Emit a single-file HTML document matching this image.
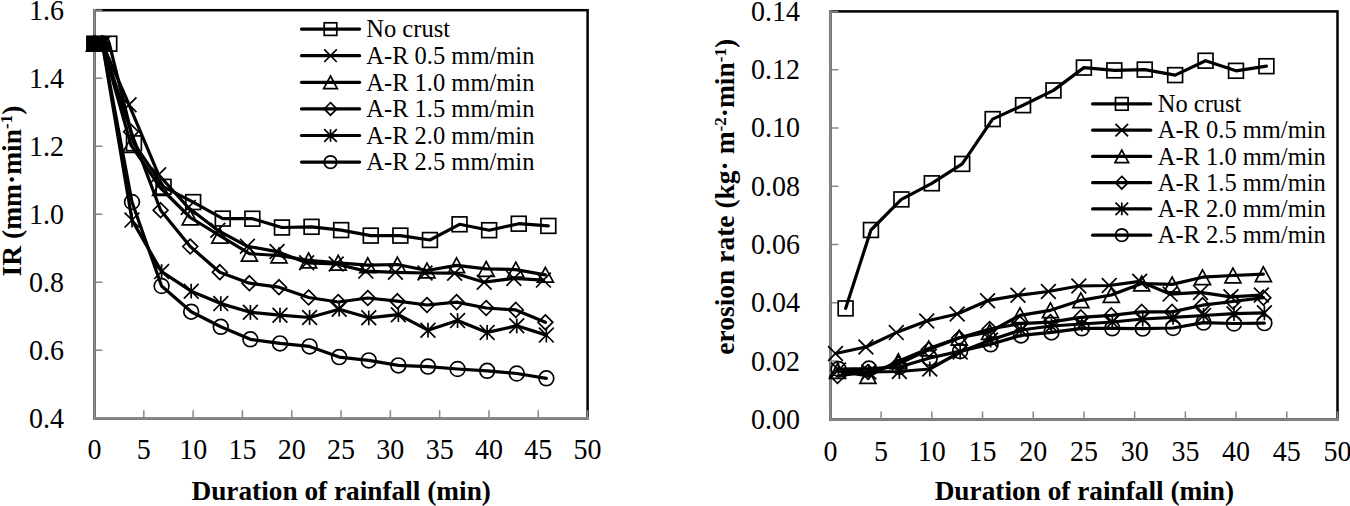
<!DOCTYPE html>
<html><head><meta charset="utf-8"><style>
html,body{margin:0;padding:0;background:#fff;width:1350px;height:506px;overflow:hidden}
svg{display:block}
.ln{fill:none;stroke:#000;stroke-width:3.2;stroke-linejoin:round;stroke-linecap:round}
.mk{fill:none;stroke:#000;stroke-width:1.7}
text{font-family:"Liberation Serif",serif;fill:#000}
.tl{font-size:28px}
.lg{font-size:24.5px}
.at{font-size:27.5px;font-weight:bold}
.xt{font-size:27.3px;font-weight:bold}
</style></head><body>
<svg width="1350" height="506" viewBox="0 0 1350 506">
<rect x="94.5" y="10.2" width="493.1" height="408.1" fill="none" stroke="#000" stroke-width="2.5"/><path d="M94.5 9.0V418.3H588.8000000000001" fill="none" stroke="#888888" stroke-width="2.5" stroke-linejoin="miter"/><path d="M94.5 418.30H102.5M94.5 350.28H102.5M94.5 282.27H102.5M94.5 214.25H102.5M94.5 146.23H102.5M94.5 78.22H102.5M94.5 10.20H102.5M94.50 418.3V410.3M143.81 418.3V410.3M193.12 418.3V410.3M242.43 418.3V410.3M291.74 418.3V410.3M341.05 418.3V410.3M390.36 418.3V410.3M439.67 418.3V410.3M488.98 418.3V410.3M538.29 418.3V410.3M587.60 418.3V410.3" stroke="#888888" stroke-width="1.5" fill="none"/><text class="tl" transform="translate(64.00 427.70) scale(1 1.07)" text-anchor="end">0.4</text><text class="tl" transform="translate(64.00 359.68) scale(1 1.07)" text-anchor="end">0.6</text><text class="tl" transform="translate(64.00 291.67) scale(1 1.07)" text-anchor="end">0.8</text><text class="tl" transform="translate(64.00 223.65) scale(1 1.07)" text-anchor="end">1.0</text><text class="tl" transform="translate(64.00 155.63) scale(1 1.07)" text-anchor="end">1.2</text><text class="tl" transform="translate(64.00 87.62) scale(1 1.07)" text-anchor="end">1.4</text><text class="tl" transform="translate(64.00 19.60) scale(1 1.07)" text-anchor="end">1.6</text><text class="tl" transform="translate(94.50 459.3) scale(1 1.07)" text-anchor="middle">0</text><text class="tl" transform="translate(143.81 459.3) scale(1 1.07)" text-anchor="middle">5</text><text class="tl" transform="translate(193.12 459.3) scale(1 1.07)" text-anchor="middle">10</text><text class="tl" transform="translate(242.43 459.3) scale(1 1.07)" text-anchor="middle">15</text><text class="tl" transform="translate(291.74 459.3) scale(1 1.07)" text-anchor="middle">20</text><text class="tl" transform="translate(341.05 459.3) scale(1 1.07)" text-anchor="middle">25</text><text class="tl" transform="translate(390.36 459.3) scale(1 1.07)" text-anchor="middle">30</text><text class="tl" transform="translate(439.67 459.3) scale(1 1.07)" text-anchor="middle">35</text><text class="tl" transform="translate(488.98 459.3) scale(1 1.07)" text-anchor="middle">40</text><text class="tl" transform="translate(538.29 459.3) scale(1 1.07)" text-anchor="middle">45</text><text class="tl" transform="translate(587.60 459.3) scale(1 1.07)" text-anchor="middle">50</text><rect x="830.4" y="11.4" width="507.1" height="408.0" fill="none" stroke="#000" stroke-width="2.5"/><path d="M830.4 10.200000000000001V419.4H1338.7" fill="none" stroke="#888888" stroke-width="2.5" stroke-linejoin="miter"/><path d="M830.4 419.40H838.4M830.4 361.11H838.4M830.4 302.83H838.4M830.4 244.54H838.4M830.4 186.26H838.4M830.4 127.97H838.4M830.4 69.69H838.4M830.4 11.40H838.4M830.40 419.4V411.4M881.11 419.4V411.4M931.82 419.4V411.4M982.53 419.4V411.4M1033.24 419.4V411.4M1083.95 419.4V411.4M1134.66 419.4V411.4M1185.37 419.4V411.4M1236.08 419.4V411.4M1286.79 419.4V411.4M1337.50 419.4V411.4" stroke="#888888" stroke-width="1.5" fill="none"/><text class="tl" transform="translate(799.90 428.80) scale(1 1.07)" text-anchor="end">0.00</text><text class="tl" transform="translate(799.90 370.51) scale(1 1.07)" text-anchor="end">0.02</text><text class="tl" transform="translate(799.90 312.23) scale(1 1.07)" text-anchor="end">0.04</text><text class="tl" transform="translate(799.90 253.94) scale(1 1.07)" text-anchor="end">0.06</text><text class="tl" transform="translate(799.90 195.66) scale(1 1.07)" text-anchor="end">0.08</text><text class="tl" transform="translate(799.90 137.37) scale(1 1.07)" text-anchor="end">0.10</text><text class="tl" transform="translate(799.90 79.09) scale(1 1.07)" text-anchor="end">0.12</text><text class="tl" transform="translate(799.90 20.80) scale(1 1.07)" text-anchor="end">0.14</text><text class="tl" transform="translate(830.40 460.5) scale(1 1.07)" text-anchor="middle">0</text><text class="tl" transform="translate(881.11 460.5) scale(1 1.07)" text-anchor="middle">5</text><text class="tl" transform="translate(931.82 460.5) scale(1 1.07)" text-anchor="middle">10</text><text class="tl" transform="translate(982.53 460.5) scale(1 1.07)" text-anchor="middle">15</text><text class="tl" transform="translate(1033.24 460.5) scale(1 1.07)" text-anchor="middle">20</text><text class="tl" transform="translate(1083.95 460.5) scale(1 1.07)" text-anchor="middle">25</text><text class="tl" transform="translate(1134.66 460.5) scale(1 1.07)" text-anchor="middle">30</text><text class="tl" transform="translate(1185.37 460.5) scale(1 1.07)" text-anchor="middle">35</text><text class="tl" transform="translate(1236.08 460.5) scale(1 1.07)" text-anchor="middle">40</text><text class="tl" transform="translate(1286.79 460.5) scale(1 1.07)" text-anchor="middle">45</text><text class="tl" transform="translate(1337.50 460.5) scale(1 1.07)" text-anchor="middle">50</text><path class="ln" d="M94.50 43.70 L109.30 43.70 L133.96 143.30 L163.56 186.80 L193.16 202.10 L222.76 218.60 L252.36 218.70 L281.95 227.50 L311.55 226.80 L341.15 230.10 L370.75 235.60 L400.35 235.60 L429.94 240.00 L459.54 224.30 L489.14 230.20 L518.74 223.70 L548.34 225.90"/><g class="mk"><rect x="87.10" y="36.30" width="14.80" height="14.80"/><rect x="101.90" y="36.30" width="14.80" height="14.80"/><rect x="126.56" y="135.90" width="14.80" height="14.80"/><rect x="156.16" y="179.40" width="14.80" height="14.80"/><rect x="185.76" y="194.70" width="14.80" height="14.80"/><rect x="215.36" y="211.20" width="14.80" height="14.80"/><rect x="244.96" y="211.30" width="14.80" height="14.80"/><rect x="274.55" y="220.10" width="14.80" height="14.80"/><rect x="304.15" y="219.40" width="14.80" height="14.80"/><rect x="333.75" y="222.70" width="14.80" height="14.80"/><rect x="363.35" y="228.20" width="14.80" height="14.80"/><rect x="392.95" y="228.20" width="14.80" height="14.80"/><rect x="422.54" y="232.60" width="14.80" height="14.80"/><rect x="452.14" y="216.90" width="14.80" height="14.80"/><rect x="481.74" y="222.80" width="14.80" height="14.80"/><rect x="511.34" y="216.30" width="14.80" height="14.80"/><rect x="540.94" y="218.50" width="14.80" height="14.80"/></g><path class="ln" d="M845.61 308.40 L870.96 230.00 L901.38 199.40 L931.80 183.30 L962.22 163.90 L992.64 119.10 L1023.06 105.20 L1053.48 90.40 L1083.90 67.60 L1114.32 70.40 L1144.74 69.60 L1175.16 75.10 L1205.58 60.70 L1236.00 70.80 L1266.42 66.20"/><g class="mk"><rect x="838.21" y="301.00" width="14.80" height="14.80"/><rect x="863.56" y="222.60" width="14.80" height="14.80"/><rect x="893.98" y="192.00" width="14.80" height="14.80"/><rect x="924.40" y="175.90" width="14.80" height="14.80"/><rect x="954.82" y="156.50" width="14.80" height="14.80"/><rect x="985.24" y="111.70" width="14.80" height="14.80"/><rect x="1015.66" y="97.80" width="14.80" height="14.80"/><rect x="1046.08" y="83.00" width="14.80" height="14.80"/><rect x="1076.50" y="60.20" width="14.80" height="14.80"/><rect x="1106.92" y="63.00" width="14.80" height="14.80"/><rect x="1137.34" y="62.20" width="14.80" height="14.80"/><rect x="1167.76" y="67.70" width="14.80" height="14.80"/><rect x="1198.18" y="53.30" width="14.80" height="14.80"/><rect x="1228.60" y="63.40" width="14.80" height="14.80"/><rect x="1259.02" y="58.80" width="14.80" height="14.80"/></g><path class="ln" d="M94.50 43.70 L102.39 43.70 L129.03 104.70 L158.63 174.80 L188.23 207.50 L217.82 230.30 L247.42 246.30 L277.02 251.60 L306.62 262.80 L336.22 264.00 L365.81 271.10 L395.41 272.30 L425.01 273.00 L454.61 273.20 L484.21 282.20 L513.81 278.40 L543.40 280.10"/><g class="mk"><path d="M87.10 36.30L101.90 51.10M87.10 51.10L101.90 36.30"/><path d="M94.99 36.30L109.79 51.10M94.99 51.10L109.79 36.30"/><path d="M121.63 97.30L136.43 112.10M121.63 112.10L136.43 97.30"/><path d="M151.23 167.40L166.03 182.20M151.23 182.20L166.03 167.40"/><path d="M180.83 200.10L195.63 214.90M180.83 214.90L195.63 200.10"/><path d="M210.42 222.90L225.22 237.70M210.42 237.70L225.22 222.90"/><path d="M240.02 238.90L254.82 253.70M240.02 253.70L254.82 238.90"/><path d="M269.62 244.20L284.42 259.00M269.62 259.00L284.42 244.20"/><path d="M299.22 255.40L314.02 270.20M299.22 270.20L314.02 255.40"/><path d="M328.82 256.60L343.62 271.40M328.82 271.40L343.62 256.60"/><path d="M358.42 263.70L373.21 278.50M358.42 278.50L373.21 263.70"/><path d="M388.01 264.90L402.81 279.70M388.01 279.70L402.81 264.90"/><path d="M417.61 265.60L432.41 280.40M417.61 280.40L432.41 265.60"/><path d="M447.21 265.80L462.01 280.60M447.21 280.60L462.01 265.80"/><path d="M476.81 274.80L491.61 289.60M476.81 289.60L491.61 274.80"/><path d="M506.41 271.00L521.21 285.80M506.41 285.80L521.21 271.00"/><path d="M536.00 272.70L550.80 287.50M536.00 287.50L550.80 272.70"/></g><path class="ln" d="M835.47 353.50 L865.89 347.00 L896.31 332.60 L926.73 321.00 L957.15 314.00 L987.57 300.70 L1017.99 295.30 L1048.41 291.50 L1078.83 286.00 L1109.25 285.50 L1139.67 281.30 L1170.09 294.10 L1200.51 292.40 L1230.93 296.80 L1261.35 295.00"/><g class="mk"><path d="M828.07 346.10L842.87 360.90M828.07 360.90L842.87 346.10"/><path d="M858.49 339.60L873.29 354.40M858.49 354.40L873.29 339.60"/><path d="M888.91 325.20L903.71 340.00M888.91 340.00L903.71 325.20"/><path d="M919.33 313.60L934.13 328.40M919.33 328.40L934.13 313.60"/><path d="M949.75 306.60L964.55 321.40M949.75 321.40L964.55 306.60"/><path d="M980.17 293.30L994.97 308.10M980.17 308.10L994.97 293.30"/><path d="M1010.59 287.90L1025.39 302.70M1010.59 302.70L1025.39 287.90"/><path d="M1041.01 284.10L1055.81 298.90M1041.01 298.90L1055.81 284.10"/><path d="M1071.43 278.60L1086.23 293.40M1071.43 293.40L1086.23 278.60"/><path d="M1101.85 278.10L1116.65 292.90M1101.85 292.90L1116.65 278.10"/><path d="M1132.27 273.90L1147.07 288.70M1132.27 288.70L1147.07 273.90"/><path d="M1162.69 286.70L1177.49 301.50M1162.69 301.50L1177.49 286.70"/><path d="M1193.11 285.00L1207.91 299.80M1193.11 299.80L1207.91 285.00"/><path d="M1223.53 289.40L1238.33 304.20M1223.53 304.20L1238.33 289.40"/><path d="M1253.95 287.60L1268.75 302.40M1253.95 302.40L1268.75 287.60"/></g><path class="ln" d="M94.50 43.70 L102.39 43.70 L131.00 145.00 L160.60 188.00 L190.20 217.50 L219.80 235.70 L249.40 253.70 L278.99 255.50 L308.59 260.40 L338.19 262.80 L367.79 265.20 L397.39 264.50 L426.98 270.50 L456.58 265.30 L486.18 268.90 L515.78 269.60 L545.38 274.80"/><g class="mk"><path d="M94.50 36.30L102.50 51.10L86.50 51.10Z"/><path d="M102.39 36.30L110.39 51.10L94.39 51.10Z"/><path d="M131.00 137.60L139.00 152.40L123.00 152.40Z"/><path d="M160.60 180.60L168.60 195.40L152.60 195.40Z"/><path d="M190.20 210.10L198.20 224.90L182.20 224.90Z"/><path d="M219.80 228.30L227.80 243.10L211.80 243.10Z"/><path d="M249.40 246.30L257.40 261.10L241.40 261.10Z"/><path d="M278.99 248.10L286.99 262.90L270.99 262.90Z"/><path d="M308.59 253.00L316.59 267.80L300.59 267.80Z"/><path d="M338.19 255.40L346.19 270.20L330.19 270.20Z"/><path d="M367.79 257.80L375.79 272.60L359.79 272.60Z"/><path d="M397.39 257.10L405.39 271.90L389.39 271.90Z"/><path d="M426.98 263.10L434.98 277.90L418.98 277.90Z"/><path d="M456.58 257.90L464.58 272.70L448.58 272.70Z"/><path d="M486.18 261.50L494.18 276.30L478.18 276.30Z"/><path d="M515.78 262.20L523.78 277.00L507.78 277.00Z"/><path d="M545.38 267.40L553.38 282.20L537.38 282.20Z"/></g><path class="ln" d="M837.50 371.00 L867.92 376.00 L898.34 361.20 L928.76 348.50 L959.18 337.80 L989.60 331.90 L1020.02 315.30 L1050.44 310.30 L1080.86 300.30 L1111.28 295.00 L1141.70 283.50 L1172.12 284.40 L1202.54 277.20 L1232.96 275.50 L1263.38 274.20"/><g class="mk"><path d="M837.50 363.60L845.50 378.40L829.50 378.40Z"/><path d="M867.92 368.60L875.92 383.40L859.92 383.40Z"/><path d="M898.34 353.80L906.34 368.60L890.34 368.60Z"/><path d="M928.76 341.10L936.76 355.90L920.76 355.90Z"/><path d="M959.18 330.40L967.18 345.20L951.18 345.20Z"/><path d="M989.60 324.50L997.60 339.30L981.60 339.30Z"/><path d="M1020.02 307.90L1028.02 322.70L1012.02 322.70Z"/><path d="M1050.44 302.90L1058.44 317.70L1042.44 317.70Z"/><path d="M1080.86 292.90L1088.86 307.70L1072.86 307.70Z"/><path d="M1111.28 287.60L1119.28 302.40L1103.28 302.40Z"/><path d="M1141.70 276.10L1149.70 290.90L1133.70 290.90Z"/><path d="M1172.12 277.00L1180.12 291.80L1164.12 291.80Z"/><path d="M1202.54 269.80L1210.54 284.60L1194.54 284.60Z"/><path d="M1232.96 268.10L1240.96 282.90L1224.96 282.90Z"/><path d="M1263.38 266.80L1271.38 281.60L1255.38 281.60Z"/></g><path class="ln" d="M94.50 43.70 L102.39 43.70 L131.00 131.70 L160.60 210.20 L190.20 246.50 L219.80 272.20 L249.40 283.20 L278.99 287.20 L308.59 297.50 L338.19 302.00 L367.79 298.00 L397.39 301.20 L426.98 305.00 L456.58 302.10 L486.18 308.00 L515.78 309.90 L545.38 322.30"/><g class="mk"><path d="M94.50 36.30L101.90 43.70L94.50 51.10L87.10 43.70Z"/><path d="M102.39 36.30L109.79 43.70L102.39 51.10L94.99 43.70Z"/><path d="M131.00 124.30L138.40 131.70L131.00 139.10L123.60 131.70Z"/><path d="M160.60 202.80L168.00 210.20L160.60 217.60L153.20 210.20Z"/><path d="M190.20 239.10L197.60 246.50L190.20 253.90L182.80 246.50Z"/><path d="M219.80 264.80L227.20 272.20L219.80 279.60L212.40 272.20Z"/><path d="M249.40 275.80L256.80 283.20L249.40 290.60L242.00 283.20Z"/><path d="M278.99 279.80L286.39 287.20L278.99 294.60L271.59 287.20Z"/><path d="M308.59 290.10L315.99 297.50L308.59 304.90L301.19 297.50Z"/><path d="M338.19 294.60L345.59 302.00L338.19 309.40L330.79 302.00Z"/><path d="M367.79 290.60L375.19 298.00L367.79 305.40L360.39 298.00Z"/><path d="M397.39 293.80L404.79 301.20L397.39 308.60L389.99 301.20Z"/><path d="M426.98 297.60L434.38 305.00L426.98 312.40L419.58 305.00Z"/><path d="M456.58 294.70L463.98 302.10L456.58 309.50L449.18 302.10Z"/><path d="M486.18 300.60L493.58 308.00L486.18 315.40L478.78 308.00Z"/><path d="M515.78 302.50L523.18 309.90L515.78 317.30L508.38 309.90Z"/><path d="M545.38 314.90L552.78 322.30L545.38 329.70L537.98 322.30Z"/></g><path class="ln" d="M837.50 376.00 L867.92 372.00 L898.34 364.00 L928.76 349.50 L959.18 338.00 L989.60 329.00 L1020.02 323.70 L1050.44 322.10 L1080.86 317.40 L1111.28 315.40 L1141.70 311.90 L1172.12 311.90 L1202.54 305.20 L1232.96 301.50 L1263.38 297.70"/><g class="mk"><path d="M837.50 368.60L844.90 376.00L837.50 383.40L830.10 376.00Z"/><path d="M867.92 364.60L875.32 372.00L867.92 379.40L860.52 372.00Z"/><path d="M898.34 356.60L905.74 364.00L898.34 371.40L890.94 364.00Z"/><path d="M928.76 342.10L936.16 349.50L928.76 356.90L921.36 349.50Z"/><path d="M959.18 330.60L966.58 338.00L959.18 345.40L951.78 338.00Z"/><path d="M989.60 321.60L997.00 329.00L989.60 336.40L982.20 329.00Z"/><path d="M1020.02 316.30L1027.42 323.70L1020.02 331.10L1012.62 323.70Z"/><path d="M1050.44 314.70L1057.84 322.10L1050.44 329.50L1043.04 322.10Z"/><path d="M1080.86 310.00L1088.26 317.40L1080.86 324.80L1073.46 317.40Z"/><path d="M1111.28 308.00L1118.68 315.40L1111.28 322.80L1103.88 315.40Z"/><path d="M1141.70 304.50L1149.10 311.90L1141.70 319.30L1134.30 311.90Z"/><path d="M1172.12 304.50L1179.52 311.90L1172.12 319.30L1164.72 311.90Z"/><path d="M1202.54 297.80L1209.94 305.20L1202.54 312.60L1195.14 305.20Z"/><path d="M1232.96 294.10L1240.36 301.50L1232.96 308.90L1225.56 301.50Z"/><path d="M1263.38 290.30L1270.78 297.70L1263.38 305.10L1255.98 297.70Z"/></g><path class="ln" d="M94.50 43.70 L102.39 43.70 L131.99 220.10 L161.59 271.60 L191.19 291.20 L220.78 303.60 L250.38 312.30 L279.98 315.20 L309.58 317.50 L339.18 309.20 L368.77 317.80 L398.37 314.70 L427.97 330.20 L457.57 320.60 L487.17 332.40 L516.76 325.80 L546.36 335.10"/><g class="mk"><path d="M87.10 36.30L101.90 51.10M87.10 51.10L101.90 36.30M94.50 36.30L94.50 51.10"/><path d="M94.99 36.30L109.79 51.10M94.99 51.10L109.79 36.30M102.39 36.30L102.39 51.10"/><path d="M124.59 212.70L139.39 227.50M124.59 227.50L139.39 212.70M131.99 212.70L131.99 227.50"/><path d="M154.19 264.20L168.99 279.00M154.19 279.00L168.99 264.20M161.59 264.20L161.59 279.00"/><path d="M183.79 283.80L198.59 298.60M183.79 298.60L198.59 283.80M191.19 283.80L191.19 298.60"/><path d="M213.38 296.20L228.18 311.00M213.38 311.00L228.18 296.20M220.78 296.20L220.78 311.00"/><path d="M242.98 304.90L257.78 319.70M242.98 319.70L257.78 304.90M250.38 304.90L250.38 319.70"/><path d="M272.58 307.80L287.38 322.60M272.58 322.60L287.38 307.80M279.98 307.80L279.98 322.60"/><path d="M302.18 310.10L316.98 324.90M302.18 324.90L316.98 310.10M309.58 310.10L309.58 324.90"/><path d="M331.78 301.80L346.58 316.60M331.78 316.60L346.58 301.80M339.18 301.80L339.18 316.60"/><path d="M361.37 310.40L376.17 325.20M361.37 325.20L376.17 310.40M368.77 310.40L368.77 325.20"/><path d="M390.97 307.30L405.77 322.10M390.97 322.10L405.77 307.30M398.37 307.30L398.37 322.10"/><path d="M420.57 322.80L435.37 337.60M420.57 337.60L435.37 322.80M427.97 322.80L427.97 337.60"/><path d="M450.17 313.20L464.97 328.00M450.17 328.00L464.97 313.20M457.57 313.20L457.57 328.00"/><path d="M479.77 325.00L494.57 339.80M479.77 339.80L494.57 325.00M487.17 325.00L487.17 339.80"/><path d="M509.36 318.40L524.16 333.20M509.36 333.20L524.16 318.40M516.76 318.40L516.76 333.20"/><path d="M538.96 327.70L553.76 342.50M538.96 342.50L553.76 327.70M546.36 327.70L546.36 342.50"/></g><path class="ln" d="M838.51 370.00 L868.93 372.00 L899.35 371.50 L929.77 369.00 L960.19 352.00 L990.61 340.00 L1021.03 330.00 L1051.45 326.00 L1081.87 324.00 L1112.29 322.00 L1142.71 319.00 L1173.13 317.30 L1203.55 315.50 L1233.97 313.70 L1264.39 312.80"/><g class="mk"><path d="M831.11 362.60L845.91 377.40M831.11 377.40L845.91 362.60M838.51 362.60L838.51 377.40"/><path d="M861.53 364.60L876.33 379.40M861.53 379.40L876.33 364.60M868.93 364.60L868.93 379.40"/><path d="M891.95 364.10L906.75 378.90M891.95 378.90L906.75 364.10M899.35 364.10L899.35 378.90"/><path d="M922.37 361.60L937.17 376.40M922.37 376.40L937.17 361.60M929.77 361.60L929.77 376.40"/><path d="M952.79 344.60L967.59 359.40M952.79 359.40L967.59 344.60M960.19 344.60L960.19 359.40"/><path d="M983.21 332.60L998.01 347.40M983.21 347.40L998.01 332.60M990.61 332.60L990.61 347.40"/><path d="M1013.63 322.60L1028.43 337.40M1013.63 337.40L1028.43 322.60M1021.03 322.60L1021.03 337.40"/><path d="M1044.05 318.60L1058.85 333.40M1044.05 333.40L1058.85 318.60M1051.45 318.60L1051.45 333.40"/><path d="M1074.47 316.60L1089.27 331.40M1074.47 331.40L1089.27 316.60M1081.87 316.60L1081.87 331.40"/><path d="M1104.89 314.60L1119.69 329.40M1104.89 329.40L1119.69 314.60M1112.29 314.60L1112.29 329.40"/><path d="M1135.31 311.60L1150.11 326.40M1135.31 326.40L1150.11 311.60M1142.71 311.60L1142.71 326.40"/><path d="M1165.73 309.90L1180.53 324.70M1165.73 324.70L1180.53 309.90M1173.13 309.90L1173.13 324.70"/><path d="M1196.15 308.10L1210.95 322.90M1196.15 322.90L1210.95 308.10M1203.55 308.10L1203.55 322.90"/><path d="M1226.57 306.30L1241.37 321.10M1226.57 321.10L1241.37 306.30M1233.97 306.30L1233.97 321.10"/><path d="M1256.99 305.40L1271.79 320.20M1256.99 320.20L1271.79 305.40M1264.39 305.40L1264.39 320.20"/></g><path class="ln" d="M94.50 43.70 L102.39 43.70 L131.99 202.00 L161.59 286.00 L191.19 311.70 L220.78 326.80 L250.38 339.30 L279.98 343.40 L309.58 346.40 L339.18 357.10 L368.77 360.40 L398.37 365.40 L427.97 366.60 L457.57 369.00 L487.17 370.80 L516.76 373.50 L546.36 378.30"/><g class="mk"><circle cx="94.50" cy="43.70" r="7.40"/><circle cx="102.39" cy="43.70" r="7.40"/><circle cx="131.99" cy="202.00" r="7.40"/><circle cx="161.59" cy="286.00" r="7.40"/><circle cx="191.19" cy="311.70" r="7.40"/><circle cx="220.78" cy="326.80" r="7.40"/><circle cx="250.38" cy="339.30" r="7.40"/><circle cx="279.98" cy="343.40" r="7.40"/><circle cx="309.58" cy="346.40" r="7.40"/><circle cx="339.18" cy="357.10" r="7.40"/><circle cx="368.77" cy="360.40" r="7.40"/><circle cx="398.37" cy="365.40" r="7.40"/><circle cx="427.97" cy="366.60" r="7.40"/><circle cx="457.57" cy="369.00" r="7.40"/><circle cx="487.17" cy="370.80" r="7.40"/><circle cx="516.76" cy="373.50" r="7.40"/><circle cx="546.36" cy="378.30" r="7.40"/></g><path class="ln" d="M838.51 369.00 L868.93 368.60 L899.35 367.00 L929.77 358.00 L960.19 351.10 L990.61 344.30 L1021.03 335.40 L1051.45 332.40 L1081.87 328.30 L1112.29 328.30 L1142.71 328.60 L1173.13 328.00 L1203.55 322.60 L1233.97 323.50 L1264.39 323.10"/><g class="mk"><circle cx="838.51" cy="369.00" r="7.40"/><circle cx="868.93" cy="368.60" r="7.40"/><circle cx="899.35" cy="367.00" r="7.40"/><circle cx="929.77" cy="358.00" r="7.40"/><circle cx="960.19" cy="351.10" r="7.40"/><circle cx="990.61" cy="344.30" r="7.40"/><circle cx="1021.03" cy="335.40" r="7.40"/><circle cx="1051.45" cy="332.40" r="7.40"/><circle cx="1081.87" cy="328.30" r="7.40"/><circle cx="1112.29" cy="328.30" r="7.40"/><circle cx="1142.71" cy="328.60" r="7.40"/><circle cx="1173.13" cy="328.00" r="7.40"/><circle cx="1203.55" cy="322.60" r="7.40"/><circle cx="1233.97" cy="323.50" r="7.40"/><circle cx="1264.39" cy="323.10" r="7.40"/></g><rect x="86.3" y="36.2" width="21" height="15" fill="#000"/><path class="ln" d="M301.5 29.10H359.6"/><g class="mk"><rect x="324.21" y="22.81" width="12.58" height="12.58"/></g><text class="lg" x="366.3" y="37.30">No crust</text><path class="ln" d="M301.5 55.70H359.6"/><g class="mk"><path d="M324.21 49.41L336.79 61.99M324.21 61.99L336.79 49.41"/></g><text class="lg" x="366.3" y="63.90">A-R 0.5 mm/min</text><path class="ln" d="M301.5 82.30H359.6"/><g class="mk"><path d="M330.50 76.01L337.30 88.59L323.70 88.59Z"/></g><text class="lg" x="366.3" y="90.50">A-R 1.0 mm/min</text><path class="ln" d="M301.5 108.90H359.6"/><g class="mk"><path d="M330.50 102.61L336.79 108.90L330.50 115.19L324.21 108.90Z"/></g><text class="lg" x="366.3" y="117.10">A-R 1.5 mm/min</text><path class="ln" d="M301.5 135.50H359.6"/><g class="mk"><path d="M324.21 129.21L336.79 141.79M324.21 141.79L336.79 129.21M330.50 129.21L330.50 141.79"/></g><text class="lg" x="366.3" y="143.70">A-R 2.0 mm/min</text><path class="ln" d="M301.5 162.10H359.6"/><g class="mk"><circle cx="330.50" cy="162.10" r="6.29"/></g><text class="lg" x="366.3" y="170.30">A-R 2.5 mm/min</text><path class="ln" d="M1092.6000000000001 103.90H1150.7"/><g class="mk"><rect x="1115.51" y="97.61" width="12.58" height="12.58"/></g><text class="lg" x="1157.7" y="112.10">No crust</text><path class="ln" d="M1092.6000000000001 130.15H1150.7"/><g class="mk"><path d="M1115.51 123.86L1128.09 136.44M1115.51 136.44L1128.09 123.86"/></g><text class="lg" x="1157.7" y="138.35">A-R 0.5 mm/min</text><path class="ln" d="M1092.6000000000001 156.40H1150.7"/><g class="mk"><path d="M1121.80 150.11L1128.60 162.69L1115.00 162.69Z"/></g><text class="lg" x="1157.7" y="164.60">A-R 1.0 mm/min</text><path class="ln" d="M1092.6000000000001 182.65H1150.7"/><g class="mk"><path d="M1121.80 176.36L1128.09 182.65L1121.80 188.94L1115.51 182.65Z"/></g><text class="lg" x="1157.7" y="190.85">A-R 1.5 mm/min</text><path class="ln" d="M1092.6000000000001 208.90H1150.7"/><g class="mk"><path d="M1115.51 202.61L1128.09 215.19M1115.51 215.19L1128.09 202.61M1121.80 202.61L1121.80 215.19"/></g><text class="lg" x="1157.7" y="217.10">A-R 2.0 mm/min</text><path class="ln" d="M1092.6000000000001 235.15H1150.7"/><g class="mk"><circle cx="1121.80" cy="235.15" r="6.29"/></g><text class="lg" x="1157.7" y="243.35">A-R 2.5 mm/min</text><text class="xt" x="341.2" y="499.7" text-anchor="middle">Duration of rainfall (min)</text><text class="xt" x="1084.4" y="500.1" text-anchor="middle">Duration of rainfall (min)</text><text class="at" transform="translate(20.9 191) rotate(-90)" text-anchor="middle">IR (mm·min<tspan dy="-8.5" font-size="17">-1</tspan><tspan dy="8.5">)</tspan></text><text class="at" transform="translate(734.3 196.8) rotate(-90)" text-anchor="middle">erosion rate (kg· m<tspan dy="-8.5" font-size="17">-2</tspan><tspan dy="8.5">·min</tspan><tspan dy="-8.5" font-size="17">-1</tspan><tspan dy="8.5">)</tspan></text>
</svg></body></html>
